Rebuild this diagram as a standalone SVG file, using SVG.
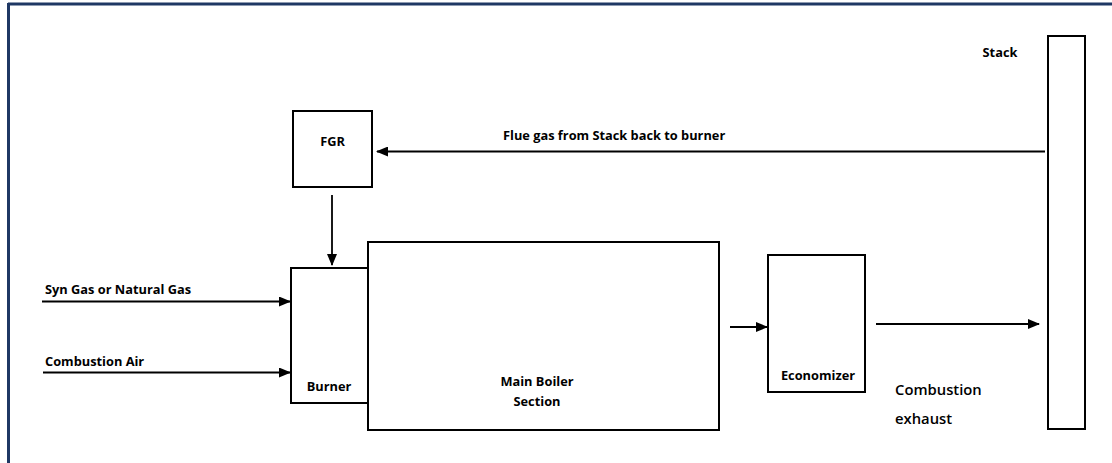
<svg xmlns="http://www.w3.org/2000/svg" width="1112" height="463" viewBox="0 0 1112 463">
<style>
.box{fill:#fff;stroke:#000;stroke-width:2}
.lbl{font-family:"Open Sans","Liberation Sans",sans-serif;font-weight:bold;font-size:12.8px;fill:#000}
.big{font-family:"Open Sans","Liberation Sans",sans-serif;font-weight:600;font-size:14.8px;fill:#000}
.edge{stroke:#000;stroke-width:1.8;fill:none;marker-end:url(#ah)}
</style>
<defs>
<marker id="ah" markerWidth="12" markerHeight="10" refX="11" refY="5" orient="auto" markerUnits="userSpaceOnUse">
<path d="M0,0 L12,5 L0,10 Z" fill="#000"/>
</marker>
</defs>
<rect width="1112" height="463" fill="#fff"/>
<g id="frame">
<line x1="8" y1="4" x2="1112" y2="4" stroke="#1f3864" stroke-width="3"/>
<line x1="8.5" y1="3" x2="8.5" y2="463" stroke="#1f3864" stroke-width="3"/>
</g>
<g id="connectors">
<line class="edge" x1="1045" y1="151.5" x2="377" y2="151.5"/>
<line class="edge" x1="332" y1="195" x2="332" y2="265"/>
<line class="edge" x1="42" y1="301.5" x2="290" y2="301.5"/>
<line class="edge" x1="43" y1="372.5" x2="290" y2="372.5"/>
<line class="edge" x1="730" y1="327" x2="767" y2="327"/>
<line class="edge" x1="876" y1="324" x2="1039" y2="324"/>
</g>
<g id="fgr">
<rect class="box" x="293" y="111" width="79" height="76"/>
<text class="lbl" x="332.5" y="146" text-anchor="middle">FGR</text>
</g>
<g id="burner">
<rect class="box" x="291" y="268" width="77" height="135"/>
<text class="lbl" x="329" y="391" text-anchor="middle">Burner</text>
</g>
<g id="boiler">
<rect class="box" x="368" y="242" width="351" height="188"/>
<text class="lbl" x="537" y="386" text-anchor="middle">Main Boiler</text>
<text class="lbl" x="537" y="406" text-anchor="middle">Section</text>
</g>
<g id="economizer">
<rect class="box" x="768" y="255" width="97" height="137"/>
<text class="lbl" x="818" y="380" text-anchor="middle">Economizer</text>
</g>
<g id="stack">
<rect class="box" x="1048" y="36" width="37" height="393"/>
<text class="lbl" x="1000" y="57" text-anchor="middle">Stack</text>
</g>
<g id="labels">
<text class="lbl" x="503" y="140">Flue gas from Stack back to burner</text>
<text class="lbl" x="45" y="294">Syn Gas or Natural Gas</text>
<text class="lbl" x="45" y="366">Combustion Air</text>
<text class="big" x="895" y="395">Combustion</text>
<text class="big" x="895" y="424">exhaust</text>
</g>
</svg>
